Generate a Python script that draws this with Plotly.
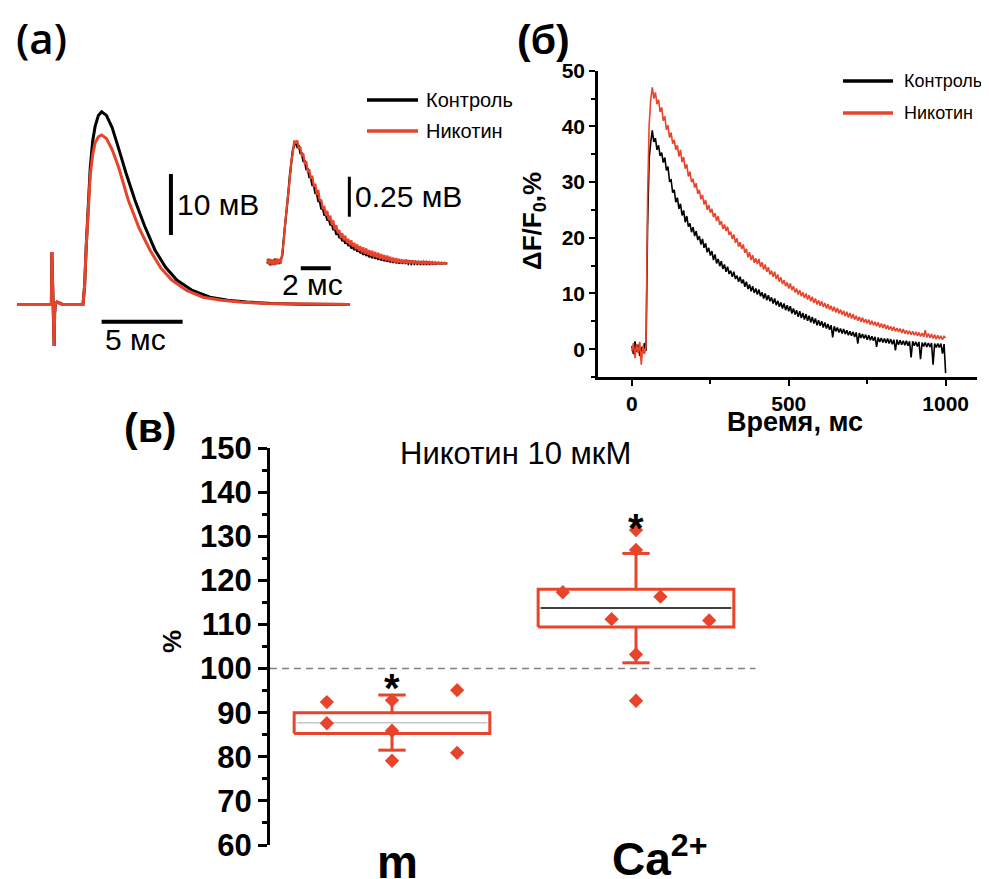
import plotly.graph_objects as go

W, H = 989, 879
OFF = 8  # page body margin of the html page
RED = "#E8432B"
FONT = "Liberation Sans, Arial, sans-serif"

# ---------------- Panel (a): evoked potentials (time ms, amplitude mV) ----------------
a_ctrl_t = [-2.2, -0.1, -0.07, 0.0, 0.07, 0.1, 0.15, 0.25, 0.4, 0.6, 1.85, 1.95, 2.05,
            2.18, 2.3, 2.45, 2.6, 2.8, 3.0, 3.3, 3.65, 4.05, 4.5, 5.06, 5.65, 6.3, 6.95,
            7.64, 8.6, 9.69, 10.8, 11.96, 13.5, 15.5, 18.33]
a_ctrl_v = [0, 0, 8.6, 1.0, -6.8, -1.5, 0.1, 0.4, 0.2, 0, 0, 3.0, 9.5,
            17.1, 22.5, 26.8, 29.2, 31.0, 31.6, 31.0, 29.0, 25.6, 21.6, 17.1, 12.9, 8.9, 6.1,
            4.0, 2.3, 1.2, 0.7, 0.4, 0.15, 0.05, 0]
a_nic_t = [-2.2, -0.1, -0.07, 0.0, 0.07, 0.1, 0.15, 0.25, 0.4, 0.6, 1.85, 1.95, 2.05,
           2.18, 2.3, 2.45, 2.6, 2.8, 3.0, 3.3, 3.65, 4.05, 4.65, 5.3, 5.99, 6.65, 7.33,
           8.25, 9.26, 10.4, 11.54, 13.2, 15.5, 18.33]
a_nic_v = [0, 0, 8.6, 1.0, -6.8, -1.5, 0.1, 0.4, 0.2, 0, 0, 3.0, 9.5,
           16.5, 21.2, 24.6, 26.5, 27.5, 27.8, 27.2, 25.4, 22.5, 17.1, 12.6, 8.9, 6.0, 4.0,
           2.3, 1.2, 0.7, 0.4, 0.15, 0.05, 0]

# inset: miniature potential, sampled every 0.1 ms (mV)
inset_dt = 0.1
inset_ctrl_v = [-0.01, 0.018, -0.02, 0.012, -0.016, 0.02, -0.014, 0.016, -0.012, 0.01,
                0.04, 0.15, 0.23, 0.35, 0.43, 0.54, 0.61, 0.70, 0.73, 0.75,
                0.72, 0.73, 0.68, 0.68, 0.63, 0.63, 0.58, 0.58, 0.53, 0.53,
                0.48, 0.48, 0.43, 0.43, 0.38, 0.38, 0.33, 0.34, 0.29, 0.30,
                0.26, 0.27, 0.23, 0.24, 0.20, 0.21, 0.17, 0.19, 0.15, 0.16,
                0.13, 0.15, 0.115, 0.13, 0.10, 0.115, 0.085, 0.10, 0.075, 0.09,
                0.065, 0.08, 0.055, 0.07, 0.045, 0.062, 0.038, 0.056, 0.03, 0.05,
                0.025, 0.043, 0.02, 0.038, 0.014, 0.032, 0.01, 0.028, 0.005, 0.024,
                0.002, 0.02, -0.002, 0.016, -0.005, 0.013, -0.007, 0.01, -0.009, 0.008,
                -0.01, 0.006, -0.011, 0.005, -0.011, 0.003, -0.012, 0.002, -0.012, 0.001,
                -0.012, 0.0, -0.012, -0.001, -0.012, -0.002, -0.012, -0.003, -0.012, -0.004,
                -0.011, -0.005, -0.011, -0.006, -0.01, -0.006, -0.01, -0.007, -0.009, -0.007,
                -0.008]
inset_nic_v = [0.02, -0.015, 0.018, -0.02, 0.015, -0.018, 0.022, -0.012, 0.02, -0.01,
               0.06, 0.13, 0.25, 0.33, 0.45, 0.52, 0.63, 0.68, 0.76, 0.74,
               0.76, 0.71, 0.72, 0.66, 0.68, 0.61, 0.63, 0.56, 0.58, 0.52,
               0.54, 0.47, 0.49, 0.42, 0.45, 0.38, 0.39, 0.33, 0.35, 0.29,
               0.32, 0.26, 0.29, 0.23, 0.26, 0.20, 0.23, 0.18, 0.20, 0.15,
               0.18, 0.135, 0.165, 0.12, 0.145, 0.105, 0.135, 0.095, 0.12, 0.08,
               0.11, 0.07, 0.10, 0.06, 0.092, 0.05, 0.085, 0.045, 0.075, 0.037,
               0.07, 0.03, 0.063, 0.025, 0.058, 0.02, 0.05, 0.015, 0.044, 0.01,
               0.04, 0.005, 0.033, 0.0, 0.028, -0.004, 0.024, -0.006, 0.02, -0.008,
               0.017, -0.01, 0.015, -0.01, 0.012, -0.01, 0.01, -0.01, 0.008, -0.011,
               0.006, -0.012, 0.005, -0.012, 0.003, -0.012, 0.002, -0.012, 0.001, -0.012,
               0.0, -0.012, -0.001, -0.012, -0.002, -0.011, -0.003, -0.011, -0.004, -0.01,
               -0.006]

# ---------------- Panel (б): calcium transients, sampled every 5 ms (ΔF/F0, %) ----------------
b_dt = 5
b_ctrl = [0.6, -0.9, 1.4, -0.5, 0.8, -1.2, 0.4, -0.7, 1.1, -0.3,
          22.0, 34.2, 37.1, 39.3, 37.2, 37.9, 35.8, 36.6, 34.7, 35.3,
          33.5, 34.4, 32.1, 32.8, 30.2, 30.4, 28.1, 28.6, 26.4, 27.2,
          25.2, 26.1, 24.0, 24.9, 22.8, 23.9, 22.0, 22.6, 21.0, 21.9,
          20.3, 21.2, 19.6, 20.3, 18.8, 19.8, 18.2, 19.0, 17.4, 18.2,
          16.8, 17.6, 16.0, 17.0, 15.4, 16.2, 14.9, 15.8, 14.4, 15.2,
          13.9, 14.8, 13.5, 14.1, 13.0, 13.9, 12.6, 13.2, 12.1, 13.0,
          11.8, 12.5, 11.2, 12.1, 10.8, 11.6, 10.4, 11.3, 10.1, 10.9,
          9.8, 10.7, 9.5, 10.2, 9.1, 10.0, 8.8, 9.7, 8.6, 9.3,
          8.2, 9.1, 7.9, 8.7, 7.6, 8.4, 7.3, 8.2, 7.0, 7.9,
          6.8, 7.7, 6.4, 7.3, 6.2, 7.0, 5.8, 6.8, 5.6, 6.5,
          5.3, 6.3, 5.1, 6.0, 4.8, 5.8, 4.6, 5.5, 4.3, 5.2,
          4.2, 5.0, 3.9, 4.8, 3.7, 4.5, 3.5, 4.3, 2.1, 4.1,
          3.2, 3.9, 3.0, 3.7, 2.8, 3.6, 2.7, 3.4, 2.5, 3.2,
          2.4, 3.1, 2.2, 3.0, 1.0, 2.9, 2.0, 2.7, 1.9, 2.6,
          1.7, 2.5, 1.6, 2.3, 1.5, 2.2, 0.4, 2.1, 1.3, 2.0,
          1.2, 1.9, 1.1, 1.9, 1.0, 1.8, 0.9, 1.7, -0.2, 1.7,
          0.8, 1.6, 0.8, 1.5, 0.7, 1.5, 0.6, 1.4, -1.5, 1.4,
          0.6, 1.3, 0.5, 1.3, -1.8, 1.2, 0.5, 1.2, 0.4, 1.1,
          0.4, 1.1, -2.8, 1.0, 0.3, 1.0, 0.3, 1.0, -0.8, 0.9,
          -4.3]
b_nic = [-0.4, 1.1, -1.6, 0.9, -0.7, 1.3, -2.8, 0.6, -0.9, 0.5,
         27.0, 40.2, 44.8, 47.0, 45.0, 46.1, 44.0, 44.8, 42.6, 43.4,
         41.0, 41.8, 39.4, 40.2, 38.0, 38.9, 36.9, 37.6, 35.8, 36.6,
         34.6, 35.8, 33.6, 34.5, 32.4, 33.2, 31.0, 31.9, 30.0, 30.6,
         29.0, 29.8, 27.9, 28.6, 26.9, 27.7, 26.0, 26.8, 25.0, 25.9,
         24.5, 25.2, 23.7, 24.4, 23.0, 23.9, 22.3, 23.0, 21.6, 22.4,
         21.2, 22.0, 20.5, 21.1, 19.8, 20.6, 19.1, 19.9, 18.4, 19.2,
         18.0, 18.8, 17.3, 18.0, 16.5, 17.4, 16.0, 16.9, 15.5, 16.3,
         15.3, 16.2, 14.8, 15.6, 14.3, 15.2, 13.9, 14.7, 13.4, 14.1,
         13.0, 13.9, 12.6, 13.4, 12.1, 12.9, 11.7, 12.4, 11.3, 12.0,
         10.9, 11.8, 10.6, 11.3, 10.2, 10.9, 9.8, 10.6, 9.5, 10.2,
         9.2, 10.0, 8.9, 9.7, 8.6, 9.4, 8.3, 9.1, 8.0, 8.8,
         7.8, 8.6, 7.6, 8.3, 7.3, 8.1, 7.1, 7.8, 6.8, 7.6,
         6.6, 7.4, 6.4, 7.1, 6.2, 6.9, 5.9, 6.7, 5.7, 6.5,
         5.5, 6.3, 5.3, 6.0, 5.1, 5.8, 4.9, 5.7, 4.8, 5.4,
         4.6, 5.3, 4.4, 5.1, 4.3, 4.9, 4.1, 4.8, 3.9, 4.6,
         3.8, 4.5, 3.6, 4.3, 3.5, 4.1, 3.3, 4.0, 3.2, 3.8,
         3.1, 3.7, 2.9, 3.6, 2.8, 3.4, 2.7, 3.3, 2.6, 3.2,
         2.5, 3.1, 2.4, 3.0, 2.3, 2.9, 2.2, 3.4, 2.1, 2.8,
         2.0, 2.7, 1.9, 2.6, 1.8, 2.5, 1.8, 2.4, 1.7, 2.3,
         2.0]

# ---------------- Panel (в): box summary, % of control ----------------
categories = ["m", "Ca<sup>2+</sup>"]
cat_pos = [1, 2]
box_q1 = [85.3, 109.4]
box_median = [87.7, 113.7]
box_q3 = [90.0, 118.0]
whisker_lo = [81.5, 101.3]
whisker_hi = [94.0, 126.1]
median_colors = ["#c8c8c8", "black"]
pts_m = [92.4, 87.6, 92.8, 85.9, 79.1, 95.1, 80.9]
pts_m_offset = [-0.267, -0.267, 0, 0, 0, 0.267, 0.267]
pts_ca = [117.3, 111.2, 131.4, 126.9, 103.2, 92.7, 116.3, 110.9]
pts_ca_offset = [-0.30, -0.10, 0, 0, 0, 0, 0.10, 0.30]
signif_y = [97.8, 134.2]
reference_level = 100


def px(x):
    return (x - OFF) / W


def py(y):
    return 1 - (y - OFF) / H


fig = go.Figure()

# panel (a) main traces
fig.add_trace(go.Scatter(x=a_ctrl_t, y=a_ctrl_v, mode="lines", line=dict(color="black", width=3),
                         xaxis="x2", yaxis="y2", showlegend=False))
fig.add_trace(go.Scatter(x=a_nic_t, y=a_nic_v, mode="lines", line=dict(color=RED, width=3),
                         xaxis="x2", yaxis="y2", showlegend=False))
# inset
inset_t = [i * inset_dt for i in range(len(inset_ctrl_v))]
fig.add_trace(go.Scatter(x=inset_t, y=inset_ctrl_v, mode="lines", line=dict(color="black", width=2.2),
                         xaxis="x3", yaxis="y3", showlegend=False))
fig.add_trace(go.Scatter(x=inset_t, y=inset_nic_v, mode="lines", line=dict(color=RED, width=2.2),
                         xaxis="x3", yaxis="y3", showlegend=False))

# panel (б)
b_t = [i * b_dt for i in range(len(b_ctrl))]
fig.add_trace(go.Scatter(x=b_t, y=b_ctrl, mode="lines", line=dict(color="black", width=1.6),
                         xaxis="x", yaxis="y", showlegend=False))
fig.add_trace(go.Scatter(x=b_t, y=b_nic, mode="lines", line=dict(color=RED, width=1.6),
                         xaxis="x", yaxis="y", showlegend=False))

# panel (в): boxes
HALF = 0.401
CAP = 0.056
for i, xc in enumerate(cat_pos):
    fig.add_trace(go.Scatter(
        x=[xc - HALF, xc + HALF, xc + HALF, xc - HALF, xc - HALF],
        y=[box_q1[i], box_q1[i], box_q3[i], box_q3[i], box_q1[i]],
        mode="lines", line=dict(color=RED, width=3), xaxis="x4", yaxis="y4", showlegend=False))
    fig.add_trace(go.Scatter(
        x=[xc, xc, None, xc, xc, None, xc - CAP, xc + CAP, None, xc - CAP, xc + CAP],
        y=[box_q3[i], whisker_hi[i], None, box_q1[i], whisker_lo[i], None,
           whisker_hi[i], whisker_hi[i], None, whisker_lo[i], whisker_lo[i]],
        mode="lines", line=dict(color=RED, width=3), xaxis="x4", yaxis="y4", showlegend=False))
    fig.add_trace(go.Scatter(
        x=[xc - HALF + 0.01, xc + HALF - 0.01], y=[box_median[i], box_median[i]],
        mode="lines", line=dict(color=median_colors[i], width=1.5), xaxis="x4", yaxis="y4",
        showlegend=False))

fig.add_trace(go.Scatter(x=[cat_pos[0] + o for o in pts_m_offset], y=pts_m, mode="markers",
                         marker=dict(symbol="diamond", size=11, color=RED),
                         xaxis="x4", yaxis="y4", showlegend=False))
fig.add_trace(go.Scatter(x=[cat_pos[1] + o for o in pts_ca_offset], y=pts_ca, mode="markers",
                         marker=dict(symbol="diamond", size=11, color=RED),
                         xaxis="x4", yaxis="y4", showlegend=False))

bold_tick = dict(family=FONT, size=21, color="black", weight="bold")

fig.update_layout(
    width=W, height=H, margin=dict(l=0, r=0, t=0, b=0, pad=0, autoexpand=False),
    paper_bgcolor="white", plot_bgcolor="rgba(0,0,0,0)",
    showlegend=False,
    # panel (б)
    xaxis=dict(domain=[px(598), px(977)], anchor="y", range=[-108, 1100], automargin=False,
               showgrid=False, zeroline=False, showline=True, linecolor="black", linewidth=2.5,
               ticks="outside", ticklen=6, tickwidth=2, tickcolor="black", dtick=500, tick0=0,
               minor=dict(dtick=250, ticks="outside", ticklen=4, tickwidth=2, tickcolor="black"),
               tickfont=bold_tick),
    yaxis=dict(domain=[py(377), py(70.7)], anchor="x", range=[-5, 50], automargin=False,
               showgrid=False, zeroline=False, showline=True, linecolor="black", linewidth=2.5,
               ticks="outside", ticklen=6, tickwidth=2, tickcolor="black", dtick=10, tick0=0,
               minor=dict(dtick=5, ticks="outside", ticklen=4, tickwidth=2, tickcolor="black"),
               tickfont=bold_tick),
    # panel (a) main
    xaxis2=dict(domain=[px(8), px(400)], anchor="y2", range=[(8 - 53) / 16.2, (400 - 53) / 16.2],
                visible=False),
    yaxis2=dict(domain=[py(370), py(80)], anchor="x2", range=[(304.5 - 370) / 6.1, (304.5 - 80) / 6.1],
                visible=False),
    # panel (a) inset
    xaxis3=dict(domain=[px(250), px(470)], anchor="y3", range=[(250 - 267.3) / 15, (470 - 267.3) / 15],
                visible=False),
    yaxis3=dict(domain=[py(300), py(120)], anchor="x3", range=[(262 - 300) / 160, (262 - 120) / 160],
                visible=False),
    # panel (в)
    xaxis4=dict(domain=[px(270), px(758)], anchor="y4", range=[0.5, 2.5], visible=False),
    yaxis4=dict(domain=[py(845), py(448)], anchor="x4", range=[60, 150], automargin=False,
                showgrid=False, zeroline=False, showline=True, linecolor="black", linewidth=3,
                ticks="outside", ticklen=9, tickwidth=2.5, tickcolor="black", dtick=10, tick0=0,
                minor=dict(dtick=5, ticks="outside", ticklen=5, tickwidth=2.5, tickcolor="black"),
                tickfont=dict(family=FONT, size=31, color="black", weight="bold")),
)

shapes = []
# scale bars panel (a)
shapes.append(dict(type="line", xref="x2", yref="y2", x0=7.28, x1=7.28, y0=11.4, y1=21.4,
                   line=dict(color="black", width=4)))
shapes.append(dict(type="line", xref="x2", yref="y2", x0=3.0, x1=8.0, y0=-2.82, y1=-2.82,
                   line=dict(color="black", width=4)))
shapes.append(dict(type="line", xref="x3", yref="y3", x0=5.47, x1=5.47, y0=0.283, y1=0.533,
                   line=dict(color="black", width=3)))
shapes.append(dict(type="line", xref="x3", yref="y3", x0=2.23, x1=4.23, y0=-0.039, y1=-0.039,
                   line=dict(color="black", width=4)))
# legends
for (x0, x1, y, c) in [(367, 418, 100, "black"), (367, 418, 131, RED),
                       (843, 893, 81, "black"), (843, 893, 113, RED)]:
    shapes.append(dict(type="line", xref="paper", yref="paper", x0=px(x0), x1=px(x1),
                       y0=py(y), y1=py(y), line=dict(color=c, width=3.5)))
# reference level line panel (в)
shapes.append(dict(type="line", xref="x4", yref="y4", x0=0.5, x1=2.49,
                   y0=reference_level, y1=reference_level,
                   line=dict(color="#808080", width=1.4, dash="7px,5px"), layer="below"))
fig.update_layout(shapes=shapes)


def ann(text, x, y, size, weight="normal", xanchor="center", yanchor="middle", family=FONT, angle=0):
    return dict(text=text, x=px(x), y=py(y), xref="paper", yref="paper", showarrow=False,
                xanchor=xanchor, yanchor=yanchor, textangle=angle,
                font=dict(family=family, size=size, color="black", weight=weight))


annotations = [
    ann("(a)", 41, 38, 42, weight=600, family="Open Sans, Liberation Sans"),
    ann("(б)", 543, 40, 41, weight="bold"),
    ann("(в)", 150, 428, 41, weight="bold"),
    ann("10 мВ", 175, 205, 30, xanchor="left"),
    ann("0.25 мВ", 353, 197, 30, xanchor="left"),
    ann("2 мс", 280, 285, 30, xanchor="left"),
    ann("5 мс", 103, 340, 30, xanchor="left"),
    ann("Контроль", 424, 100, 20, xanchor="left"),
    ann("Никотин", 424, 131, 20, xanchor="left"),
    ann("Контроль", 902, 81, 18, xanchor="left"),
    ann("Никотин", 902, 113, 18, xanchor="left"),
    ann("Время, мс", 795, 422, 27, weight="bold"),
    ann("ΔF/F<sub>0</sub>,%", 533, 221, 26, weight="bold", angle=-90),
    ann("%", 172, 642, 26, weight="bold", angle=-90),
    ann("Никотин 10 мкМ", 516, 453, 31),
]
for i, xc in enumerate(cat_pos):
    annotations.append(dict(text="*", x=xc, y=signif_y[i], xref="x4", yref="y4", showarrow=False,
                            yshift=-10, font=dict(family=FONT, size=40, color="black", weight="bold")))
annotations.append(ann(categories[0], 397, 862, 46, weight="bold"))
annotations.append(ann(categories[1], 610, 856, 46, weight="bold", xanchor="left"))
fig.update_layout(annotations=annotations)

fig.write_html("out.html")
